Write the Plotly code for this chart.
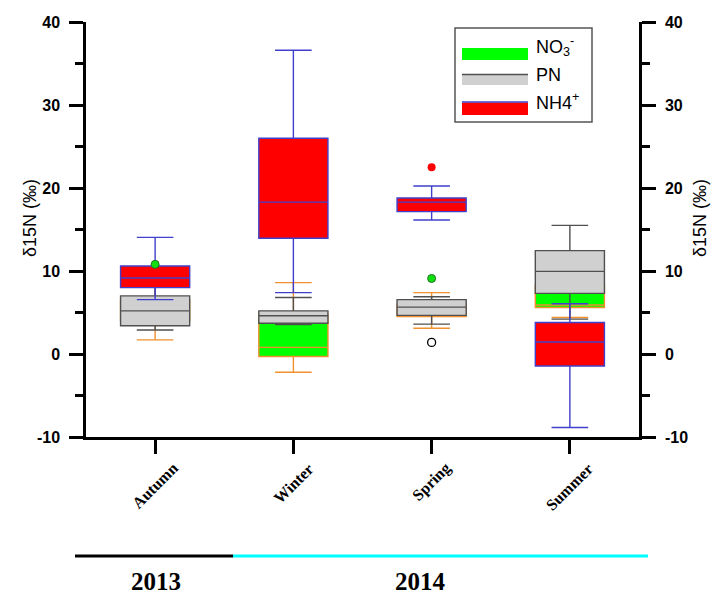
import plotly.graph_objects as go

# Seasons on the category axis (positions 1..4)
seasons = ["Autumn", "Winter", "Spring", "Summer"]
positions = [1, 2, 3, 4]

# Value-axis ticks
y_tickvals = [-10, 0, 10, 20, 30, 40]
y_ticktext = ["-10", "0", "10", "20", "30", "40"]

# Box statistics for δ15N (‰) per season
no3_low = [1.7, -2.2, 3.1, 4.4]
no3_q1 = [4.0, -0.3, 4.5, 5.6]
no3_med = [5.5, 0.8, 5.3, 5.9]
no3_q3 = [6.5, 4.8, 6.0, 8.3]
no3_high = [8.6, 8.6, 7.4, 9.5]
no3_out_x = [1, 3]
no3_out_y = [10.8, 9.1]

pn_low = [2.9, 3.55, 3.6, 4.2]
pn_q1 = [3.4, 3.7, 4.65, 7.3]
pn_med = [5.2, 4.6, 5.65, 9.95]
pn_q3 = [7.0, 5.2, 6.55, 12.45]
pn_high = [9.0, 6.8, 6.9, 15.5]
pn_out_x = [3]
pn_out_y = [1.4]

nh4_low = [6.55, 7.4, 16.15, -8.85]
nh4_q1 = [8.0, 13.95, 17.15, -1.45]
nh4_med = [9.15, 18.3, 18.3, 1.45]
nh4_q3 = [10.6, 26.0, 18.8, 3.8]
nh4_high = [14.05, 36.6, 20.25, 6.05]
nh4_out_x = [3]
nh4_out_y = [22.5]

years = ["2013", "2014"]

W, H = 716, 597
ML, MR, MT, MB = 86, 77, 22, 160
PW, PH = W - ML - MR, H - MT - MB


def px(x):
    return (x - ML) / PW


def py(y):
    return (H - MB - y) / PH


fig = go.Figure()


def add_box(name, low, q1, med, q3, high, fill, line):
    fig.add_trace(go.Box(
        name=name, x=positions, lowerfence=low, q1=q1, median=med, q3=q3,
        upperfence=high, width=0.5, whiskerwidth=0.53,
        fillcolor=fill, line=dict(color=line, width=1.4),
        boxpoints=False, showlegend=False, hoverinfo="skip",
    ))


add_box("NO3-", no3_low, no3_q1, no3_med, no3_q3, no3_high, "#00ff00", "#f0902f")
add_box("PN", pn_low, pn_q1, pn_med, pn_q3, pn_high, "#d0d0d0", "#505050")
add_box("NH4+", nh4_low, nh4_q1, nh4_med, nh4_q3, nh4_high, "#ff0000", "#4040cc")

# outliers, plotted against the right-hand axis (same scale)
fig.add_trace(go.Scatter(x=no3_out_x, y=no3_out_y, mode="markers", showlegend=False, yaxis="y2",
                         marker=dict(size=8, color="#10e010", line=dict(color="#207020", width=1))))
fig.add_trace(go.Scatter(x=pn_out_x, y=pn_out_y, mode="markers", showlegend=False, yaxis="y2",
                         marker=dict(size=8, color="white", line=dict(color="black", width=1.3))))
fig.add_trace(go.Scatter(x=nh4_out_x, y=nh4_out_y, mode="markers", showlegend=False, yaxis="y2",
                         marker=dict(size=8, color="#ff0000", line=dict(color="#ff0000", width=0))))

tick_font = dict(family="Liberation Sans", size=16, color="black", weight="bold")
axis_common = dict(
    range=[-10, 40], tickvals=y_tickvals, ticktext=y_ticktext, ticks="outside", ticklen=14,
    tickwidth=2.5, tickcolor="black", showline=True, linewidth=2.5, linecolor="black",
    showgrid=False, zeroline=False, tickfont=tick_font, ticklabelstandoff=6,
    minor=dict(dtick=5, tick0=0, ticks="outside", ticklen=8, tickwidth=2.5, tickcolor="black"),
)

fig.update_layout(
    width=W, height=H, margin=dict(l=ML, r=MR, t=MT, b=MB),
    paper_bgcolor="white", plot_bgcolor="white", boxmode="overlay",
    xaxis=dict(range=[0.5, 4.5], tickvals=positions, ticktext=seasons, showticklabels=False,
               ticks="outside", ticklen=14, tickwidth=2.5, tickcolor="black",
               showline=True, linewidth=2.5, linecolor="black", showgrid=False, zeroline=False),
    yaxis=dict(**axis_common),
    yaxis2=dict(**axis_common, overlaying="y", side="right", anchor="x"),
)

annotations = []
# season labels, rotated
for p, s in zip(positions, seasons):
    annotations.append(dict(x=p, xref="x", y=py(457), yref="paper", text=s, showarrow=False,
                            textangle=-45, xanchor="center", yanchor="top",
                            font=dict(family="Liberation Serif", size=16, color="black", weight="bold")))

# axis titles
for xc in (30, 700):
    annotations.append(dict(x=px(xc), y=py(218), xref="paper", yref="paper", text="δ15N (‰)",
                            showarrow=False, textangle=-90, xanchor="center", yanchor="middle",
                            font=dict(family="Liberation Sans", size=18, color="black")))

# year labels
for xc, t in ((156, years[0]), (420, years[1])):
    annotations.append(dict(x=px(xc), y=py(597), xref="paper", yref="paper", text=t,
                            showarrow=False, xanchor="center", yanchor="bottom",
                            font=dict(family="Liberation Serif", size=25, color="black", weight="bold")))

# legend text
leg_font = dict(family="Liberation Sans", size=18, color="black")
for yc, t in ((47, "NO<sub>3</sub><sup>-</sup>"), (75, "PN"), (102, "NH4<sup>+</sup>")):
    annotations.append(dict(x=px(534), y=py(yc), xref="paper", yref="paper", text=t,
                            showarrow=False, xanchor="left", yanchor="middle", font=leg_font))

shapes = [
    # year bars
    dict(type="line", xref="paper", yref="paper", x0=px(75), x1=px(233), y0=py(556), y1=py(556),
         line=dict(color="black", width=3)),
    dict(type="line", xref="paper", yref="paper", x0=px(233), x1=px(648), y0=py(556), y1=py(556),
         line=dict(color="#00ffff", width=3)),
    # legend frame
    dict(type="rect", xref="paper", yref="paper", x0=px(455), x1=px(592), y0=py(122), y1=py(28),
         line=dict(color="#555555", width=1.5), fillcolor="white"),
    # legend swatches
    dict(type="rect", xref="paper", yref="paper", x0=px(462), x1=px(528), y0=py(60), y1=py(48),
         line=dict(width=0), fillcolor="#00ff00"),
    dict(type="rect", xref="paper", yref="paper", x0=px(462), x1=px(528), y0=py(85), y1=py(75),
         line=dict(width=0), fillcolor="#d0d0d0"),
    dict(type="line", xref="paper", yref="paper", x0=px(462), x1=px(528), y0=py(74.5), y1=py(74.5),
         line=dict(color="#505050", width=1.4)),
    dict(type="rect", xref="paper", yref="paper", x0=px(462), x1=px(528), y0=py(115), y1=py(102.5),
         line=dict(width=0), fillcolor="#ff0000"),
    dict(type="line", xref="paper", yref="paper", x0=px(462), x1=px(528), y0=py(102), y1=py(102),
         line=dict(color="#4040cc", width=1.4)),
]

fig.update_layout(annotations=annotations, shapes=shapes)
fig.write_html("out.html")
